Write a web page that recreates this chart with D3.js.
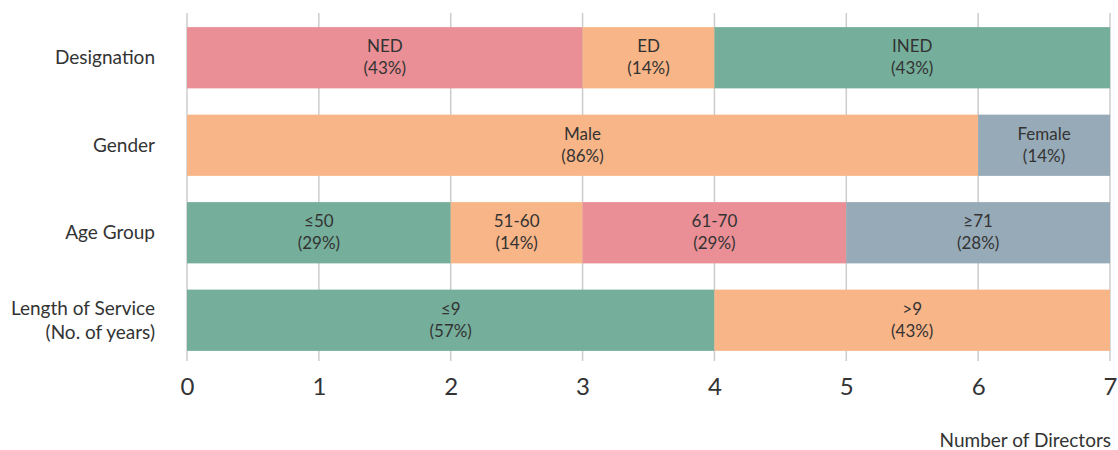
<!DOCTYPE html>
<html>
<head>
<meta charset="utf-8">
<script src="https://cdn.jsdelivr.net/npm/d3@7"></script>
<style>
  body { margin: 0; background: #fff; }
  text { font-family: Lato, "Open Sans", sans-serif; fill: #333; }
</style>
</head>
<body>
<div id="container"></div>
<script>
/* CONSTANTS AND GLOBALS */
const width = 1118;
const height = 450;

const margin = { top: 14, right: 8, bottom: 90, left: 187 };

/* DATA */
const categories = ["Designation", "Gender", "Age Group", "Length of Service\n(No. of years)"];
const segLabels = [
  ["NED", "ED", "INED"],
  ["Male", "Female"],
  ["\u226450", "51-60", "61-70", "\u226571"],
  ["\u22649", ">9"]
];
const segValues = [
  [3, 1, 3],
  [6, 1],
  [2, 1, 2, 2],
  [4, 3]
];
const segPct = [
  ["43%", "14%", "43%"],
  ["86%", "14%"],
  ["29%", "14%", "29%", "28%"],
  ["57%", "43%"]
];
const segColors = [
  ["pink", "orange", "green"],
  ["orange", "grey"],
  ["green", "orange", "pink", "grey"],
  ["green", "orange"]
];
const xTicks = [0, 1, 2, 3, 4, 5, 6, 7];

const palette = { pink: "#E98F95", orange: "#F8B587", green: "#75AE9A", grey: "#97AAB7" };

// flatten into segment rows with start/end
const segments = [];
categories.forEach((cat, i) => {
  let acc = 0;
  segValues[i].forEach((v, j) => {
    segments.push({ cat, label: segLabels[i][j], pct: segPct[i][j], color: segColors[i][j], x0: acc, x1: acc + v });
    acc += v;
  });
});

// SCALES
const xScale = d3.scaleLinear()
  .domain([0, 7])
  .range([margin.left, width - margin.right]);

const yScale = d3.scaleBand()
  .domain(categories)
  .range([margin.top, 364])
  .paddingInner(0.3)
  .paddingOuter(0.15);

// SVG
const svg = d3.select("#container")
  .append("svg")
  .attr("width", width)
  .attr("height", height);

// GRIDLINES
svg.selectAll(".grid")
  .data(xTicks)
  .join("line")
  .attr("class", "grid")
  .attr("x1", d => xScale(d))
  .attr("x2", d => xScale(d))
  .attr("y1", 13)
  .attr("y2", 361)
  .attr("stroke", "#cccccc")
  .attr("stroke-width", 1.5);

// BARS
svg.selectAll(".seg")
  .data(segments)
  .join("rect")
  .attr("class", "seg")
  .attr("x", d => xScale(d.x0))
  .attr("width", d => xScale(d.x1) - xScale(d.x0))
  .attr("y", d => yScale(d.cat))
  .attr("height", yScale.bandwidth())
  .attr("fill", d => palette[d.color]);

// BAR LABELS
const segText = svg.selectAll(".segLabel")
  .data(segments)
  .join("text")
  .attr("class", "segLabel")
  .attr("text-anchor", "middle")
  .attr("font-size", 17);

segText.append("tspan")
  .attr("x", d => (xScale(d.x0) + xScale(d.x1)) / 2)
  .attr("y", d => yScale(d.cat) + yScale.bandwidth() / 2 - 5.5)
  .text(d => d.label);

segText.append("tspan")
  .attr("x", d => (xScale(d.x0) + xScale(d.x1)) / 2)
  .attr("y", d => yScale(d.cat) + yScale.bandwidth() / 2 + 16.5)
  .text(d => `(${d.pct})`);

// CATEGORY LABELS
const catText = svg.selectAll(".catLabel")
  .data(categories)
  .join("text")
  .attr("class", "catLabel")
  .attr("text-anchor", "end")
  .attr("font-size", 19);

catText.each(function (d) {
  const lines = d.split("\n");
  const cy = yScale(d) + yScale.bandwidth() / 2;
  lines.forEach((ln, k) => {
    d3.select(this).append("tspan")
      .attr("x", 155)
      .attr("y", cy + 6.5 + (k - (lines.length - 1) / 2) * 24)
      .text(ln);
  });
});

// X AXIS
const xAxis = d3.axisBottom(xScale)
  .tickValues(xTicks)
  .tickFormat(d3.format("d"))
  .tickSize(0)
  .tickPadding(0);

const xAxisGroup = svg.append("g")
  .attr("class", "xAxis")
  .attr("transform", `translate(0, 378)`)
  .call(xAxis);

xAxisGroup.select(".domain").remove();
xAxisGroup.selectAll("text")
  .attr("font-family", "Lato, sans-serif")
  .attr("font-size", 24)
  .attr("fill", "#333")
  .attr("dy", "0.72em");

svg.append("text")
  .attr("class", "xLabel")
  .attr("x", 1111)
  .attr("y", 447)
  .attr("text-anchor", "end")
  .attr("font-size", 19)
  .text("Number of Directors");
</script>
</body>
</html>
